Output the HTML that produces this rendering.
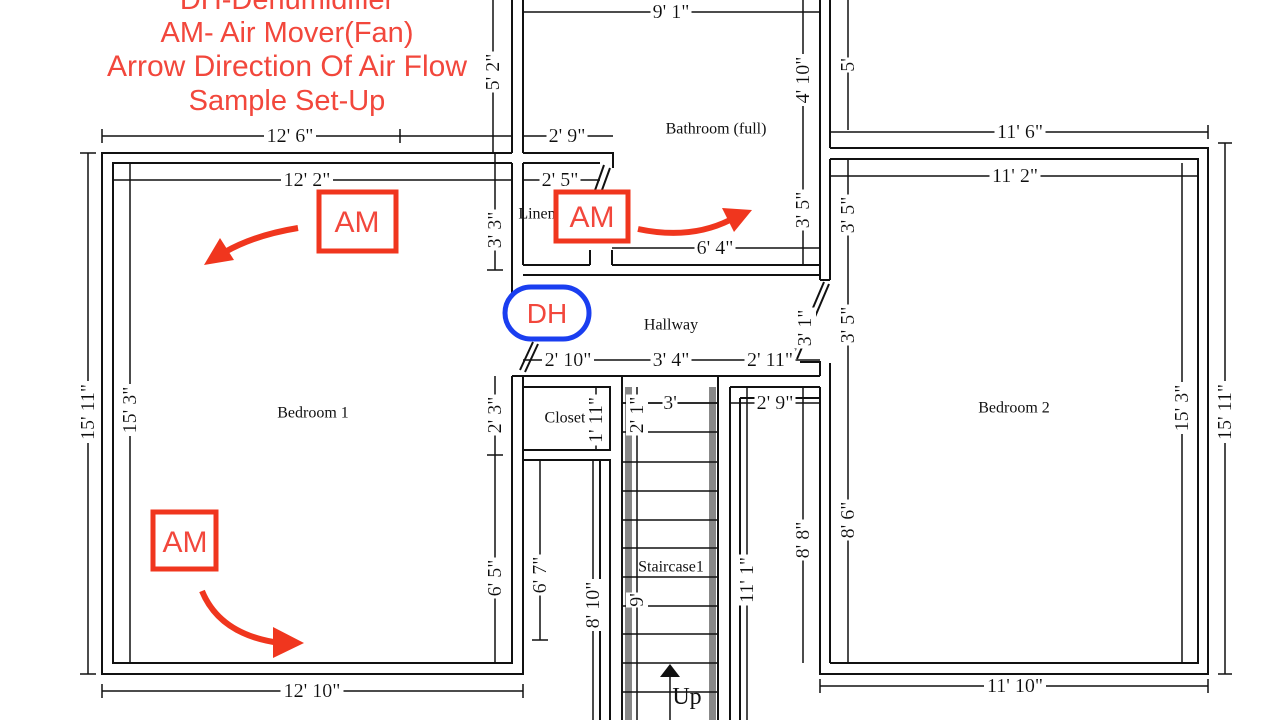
<!DOCTYPE html>
<html><head><meta charset="utf-8"><style>
html,body{margin:0;padding:0;background:#fff;}
svg{display:block;}
.w{stroke:#111;stroke-width:2;fill:none;}
.d{stroke:#111;stroke-width:1.5;fill:none;}
.t{font-family:"Liberation Serif",serif;font-size:20px;fill:#111;text-anchor:middle;dominant-baseline:central;filter:url(#bg);}
.l{font-family:"Liberation Serif",serif;font-size:16px;fill:#111;text-anchor:middle;dominant-baseline:central;}
.r{font-family:"Liberation Sans",sans-serif;fill:#f2473c;text-anchor:middle;}
</style></head><body>
<svg width="1280" height="720" viewBox="0 0 1280 720" xmlns="http://www.w3.org/2000/svg">
<defs>
<filter id="bg" x="-0.05" y="0" width="1.1" height="1">
<feFlood flood-color="#fff"/>
<feComposite in="SourceGraphic" operator="over"/>
</filter>
</defs>
<!-- walls -->
<g class="w">
<path d="M512,153 H102 V674 H523 V460"/>
<path d="M512,163 H113 V663 H512 V376"/>
<path d="M512,0 V153 M523,0 V153 M512,163 V300 M523,163 V265"/>
<path d="M523,153 H613 V168 M523,163 H600"/>
<path d="M523,265 H590 M612,265 H820 M523,275 H820"/>
<path d="M590,250 V265 M612,250 V265"/>
<path d="M604,165 L588,210 M610,168 L594,212" />
<path d="M820,0 V280 M830,0 V148 M830,159 V280 M820,280 H830"/>
<path d="M824,282 L792,357 M829,284 L797,359"/>
<path d="M800,362 H820 V376 M830,363 V663"/>
<path d="M512,376 H820"/>
<path d="M520,370 L533,342 M525,372 L538,344"/>
<path d="M830,148 H1208 V674 H820 V387"/>
<path d="M830,159 H1198 V663 H830"/>
<path d="M523,376 V460 M523,387 H610 V450 H523 M523,460 H610 V720 M600,460 V720"/>
<path d="M622,376 V720 M718,376 V720"/>
<path d="M730,387 H820 M730,387 V720 M740,398 V720 M740,398 H820"/>
</g>
<rect x="625" y="387" width="7" height="333" fill="#888"/>
<rect x="709" y="387" width="7" height="333" fill="#888"/>
<g class="d">
<path d="M622,403 H718 M622,432 H718 M622,462 H718 M622,491 H718 M622,520 H718 M622,548 H718 M622,577 H718 M622,606 H718 M622,634 H718 M622,663 H718 M622,692 H718"/>
<path d="M670,670 V720"/>
</g>
<polygon points="660,677 670,664 680,677" fill="#111"/>
<text x="687" y="697" class="l" style="font-size:24px">Up</text>
<!-- dimension lines -->
<g class="d">
<path d="M523,12 H820 M493,0 V153 M803,0 V153 M848,0 V130"/>
<path d="M102,136 H512 M102,129 V143 M523,136 H613 M400,129 V143"/>
<path d="M830,132 H1208 M1208,125 V139"/>
<path d="M113,180 H512 M523,180 H600 M830,176 H1198"/>
<path d="M495,153 V270 M487,270 H503 M803,153 V265 M848,159 V280 M848,280 V376"/>
<path d="M612,248 H820"/>
<path d="M523,360 H820"/>
<path d="M495,376 V455 M487,455 H503 M495,455 V663"/>
<path d="M622,403 H718 M730,403 H820 M637,387 V720 M747,387 V720 M596,387 V450 M540,460 V640 M532,640 H548 M593,460 V720"/>
<path d="M130,163 V663 M88,153 V674 M80,153 H96 M80,674 H96"/>
<path d="M1182,163 V663 M1225,143 V674 M1218,143 H1232 M1218,674 H1232"/>
<path d="M803,387 V663 M848,376 V663"/>
<path d="M102,691 H523 M102,684 V698 M523,684 V698"/>
<path d="M820,686 H1208 M820,679 V693 M1208,679 V693"/>
</g>
<!-- labels -->
<text x="671" y="12" class="t">9' 1"</text>
<text class="t" transform="translate(493,72) rotate(-90)">5' 2"</text>
<text class="t" transform="translate(803,80) rotate(-90)">4' 10"</text>
<text class="t" transform="translate(848,65) rotate(-90)">5'</text>
<text x="290" y="136" class="t">12' 6"</text>
<text x="567" y="136" class="t">2' 9"</text>
<text x="1020" y="132" class="t">11' 6"</text>
<text x="307" y="180" class="t">12' 2"</text>
<text x="560" y="180" class="t">2' 5"</text>
<text x="1015" y="176" class="t">11' 2"</text>
<text x="716" y="129" class="l">Bathroom (full)</text>
<text class="t" transform="translate(495,230) rotate(-90)">3' 3"</text>
<text class="t" transform="translate(803,210) rotate(-90)">3' 5"</text>
<text class="t" transform="translate(848,215) rotate(-90)">3' 5"</text>
<text class="t" transform="translate(848,325) rotate(-90)">3' 5"</text>
<text class="t" transform="translate(805,328) rotate(-90)">3' 1"</text>
<text x="537" y="214" class="l">Linen</text>
<text x="715" y="248" class="t">6' 4"</text>
<text x="671" y="325" class="l">Hallway</text>
<text x="568" y="360" class="t">2' 10"</text>
<text x="671" y="360" class="t">3' 4"</text>
<text x="770" y="360" class="t">2' 11"</text>
<text class="t" transform="translate(495,415) rotate(-90)">2' 3"</text>
<text x="565" y="418" class="l">Closet</text>
<text class="t" transform="translate(596,420) rotate(-90)">1' 11"</text>
<text x="670" y="403" class="t">3'</text>
<text class="t" transform="translate(637,415) rotate(-90)">2' 1"</text>
<text x="775" y="403" class="t">2' 9"</text>
<text class="t" transform="translate(130,410) rotate(-90)">15' 3"</text>
<text class="t" transform="translate(88,412) rotate(-90)">15' 11"</text>
<text x="313" y="413" class="l">Bedroom 1</text>
<text x="1014" y="408" class="l">Bedroom 2</text>
<text class="t" transform="translate(1182,408) rotate(-90)">15' 3"</text>
<text class="t" transform="translate(1225,412) rotate(-90)">15' 11"</text>
<text class="t" transform="translate(495,578) rotate(-90)">6' 5"</text>
<text class="t" transform="translate(540,575) rotate(-90)">6' 7"</text>
<text class="t" transform="translate(593,605) rotate(-90)">8' 10"</text>
<text class="t" transform="translate(637,600) rotate(-90)">9'</text>
<text x="671" y="567" class="l">Staircase1</text>
<text class="t" transform="translate(747,580) rotate(-90)">11' 1"</text>
<text class="t" transform="translate(803,540) rotate(-90)">8' 8"</text>
<text class="t" transform="translate(848,520) rotate(-90)">8' 6"</text>
<text x="312" y="691" class="t">12' 10"</text>
<text x="1015" y="686" class="t">11' 10"</text>
<!-- red overlay -->
<g class="r" style="font-size:29px">
<text x="287" y="9">DH-Dehumidifier</text>
<text x="287" y="42">AM- Air Mover(Fan)</text>
<text x="287" y="76" style="font-size:30px">Arrow Direction Of  Air Flow</text>
<text x="287" y="110">Sample Set-Up</text>
</g>
<g fill="#fff" stroke="#f0361e" stroke-width="5">
<rect x="319" y="192" width="77" height="59"/>
<rect x="556" y="192" width="72" height="49"/>
<rect x="153" y="512" width="63" height="57"/>
</g>
<g class="r" style="font-size:30px">
<text x="357" y="232">AM</text>
<text x="592" y="227">AM</text>
<text x="185" y="552">AM</text>
</g>
<g fill="none" stroke="#f0361e" stroke-width="6">
<path d="M298,228 Q255,235 225,252"/>
<path d="M638,229 Q690,240 730,220"/>
<path d="M202,591 Q220,635 280,643"/>
</g>
<g fill="#f0361e">
<polygon points="204,265 220,238 234,260"/>
<polygon points="752,210 722,208 734,232"/>
<polygon points="304,643 273,627 273,658"/>
</g>
<rect x="505" y="287" width="84" height="52" rx="26" fill="#fff" stroke="#1a3ef0" stroke-width="5"/>
<text x="547" y="323" class="r" style="font-size:28px">DH</text>
</svg>
</body></html>
